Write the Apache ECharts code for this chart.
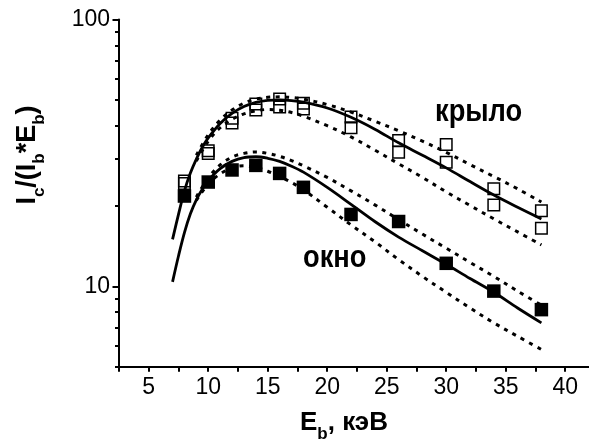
<!DOCTYPE html>
<html>
<head>
<meta charset="utf-8">
<script src="https://cdn.jsdelivr.net/npm/echarts@6/dist/echarts.min.js"></script>
<style>
  html, body { margin: 0; padding: 0; background: #fff; }
  #chart { width: 589px; height: 443px; }
</style>
</head>
<body>
<div id="chart"></div>
<script>
// Beam energy, keV, at which the yields were measured
const energies = [8, 10, 12, 14, 16, 18, 22, 26, 30, 34, 38];

// "крыло" (wing) — two measurement runs, open squares
const kryloRunA = [24.8, 32.2, 42.7, 48.2, 50.4, 48.6, 43.1, 35.2, 34.0, 23.2, 19.2];
const kryloRunB = [24.3, 31.5, 40.9, 45.8, 47.0, 46.2, 39.3, 31.8, 29.2, 20.2, 16.5];

// "окно" (window) — filled squares
const oknoData = [21.8, 24.6, 27.3, 28.4, 26.5, 23.5, 18.6, 17.5, 12.2, 9.6, 8.18];

// Model curves (solid) and their error bands (dotted)
const fitX = [7, 7.5, 8, 8.5, 9, 9.5, 10, 11, 12, 13, 14, 15, 16, 17, 18, 20, 22, 24, 26, 28, 30, 32, 34, 36, 38];
const kryloFit = [15.0, 18.6, 22.8, 26.6, 30.0, 33.2, 36.0, 40.8, 44.5, 47.2, 48.9, 49.8, 50.0, 49.7, 49.0, 46.6, 43.0, 38.8, 34.5, 31.0, 27.8, 24.7, 22.0, 19.8, 17.9];
const oknoFit = [10.4, 13.0, 15.9, 18.7, 21.1, 23.1, 24.9, 27.6, 29.4, 30.4, 30.6, 30.2, 29.4, 28.2, 26.8, 23.5, 20.3, 17.5, 15.3, 13.6, 12.1, 10.7, 9.5, 8.3, 7.3];

const bandX = [9, 10, 11, 12, 13, 14, 15, 16, 17, 18, 20, 22, 24, 26, 28, 30, 32, 34, 36, 38];
const kryloHi = [31.0, 37.0, 42.0, 45.8, 48.6, 50.3, 51.1, 51.3, 51.0, 50.3, 48.0, 45.0, 41.6, 38.3, 35.0, 31.8, 28.6, 25.8, 23.2, 20.7];
const kryloLo = [29.5, 35.0, 39.3, 42.3, 44.3, 45.5, 46.0, 45.7, 44.8, 43.4, 40.0, 36.3, 32.4, 28.8, 25.6, 22.6, 20.1, 17.9, 16.0, 14.3];
const oknoHi = [21.6, 25.5, 28.5, 30.5, 31.5, 31.9, 31.5, 30.7, 29.6, 28.3, 25.6, 22.8, 20.2, 17.8, 15.7, 13.9, 12.3, 10.9, 9.6, 8.5];
const oknoLo = [21.0, 24.2, 26.4, 27.8, 28.3, 27.9, 27.0, 25.8, 24.5, 23.0, 19.8, 17.0, 14.7, 12.6, 10.9, 9.5, 8.3, 7.3, 6.5, 5.8];

// Axis ticks and labels
const xTicks = [2.5, 5, 7.5, 10, 12.5, 15, 17.5, 20, 22.5, 25, 27.5, 30, 32.5, 35, 37.5, 40];
const xLabels = [5, 10, 15, 20, 25, 30, 35, 40];
const yMajor = [10, 100];
const yMinor = [5, 6, 7, 8, 9, 20, 30, 40, 50, 60, 70, 80, 90];

// Axis titles: [text, isSubscript]
const xTitle = [['E', false], ['b', true], [', кэВ', false]];
const yTitle = [['I', false], ['c', true], ['/(I', false], ['b', true], ['*E', false], ['b', true], [')', false]];

const FONT = "'Liberation Sans', Arial, sans-serif";
const zip = (xs, ys) => xs.map((x, i) => [x, ys[i]]);

const solid = { color: '#000', width: 2.8 };
const dotted = { color: '#000', width: 3, type: [4, 5.5] };

function curve(xs, ys, style) {
  return {
    type: 'line', data: zip(xs, ys), showSymbol: false, smooth: 0.35,
    lineStyle: style, z: 2, silent: true
  };
}

// Title with subscripts, laid out piece by piece and centred on its group origin
const measureCtx = document.createElement('canvas').getContext('2d');
function titleGroup(parts, size, subSize, drop, pos, rotation) {
  const mainFont = `bold ${size}px ${FONT}`;
  const subFont = `bold ${subSize}px ${FONT}`;
  const widths = parts.map(([t, sub]) => {
    measureCtx.font = sub ? subFont : mainFont;
    return measureCtx.measureText(t).width;
  });
  const total = widths.reduce((a, b) => a + b, 0);
  let x = -total / 2;
  const children = parts.map(([t, sub], i) => {
    const el = {
      type: 'text', x: x, y: sub ? drop : 0,
      style: { text: t, font: sub ? subFont : mainFont, fill: '#000', align: 'left', verticalAlign: 'middle' }
    };
    x += widths[i];
    return el;
  });
  return { type: 'group', x: pos[0], y: pos[1], rotation: rotation, children: children, z: 10 };
}

const chart = echarts.init(document.getElementById('chart'), null, { renderer: 'canvas' });

chart.setOption({
  animation: false,
  backgroundColor: '#fff',
  grid: { left: 119, right: 0, top: 19.5, bottom: 76.3, containLabel: false },
  xAxis: {
    type: 'value', min: 2.5, max: 42,
    axisLine: { show: true, lineStyle: { color: '#000', width: 2 } },
    axisTick: { show: true, customValues: xTicks, length: 5, lineStyle: { color: '#000', width: 2 } },
    axisLabel: { customValues: xLabels, fontSize: 23, color: '#000', fontFamily: FONT, margin: 9 },
    splitLine: { show: false }
  },
  yAxis: [
    {
      type: 'log', logBase: 10, min: 5, max: 100, position: 'left',
      axisLine: { show: true, lineStyle: { color: '#000', width: 2 } },
      axisTick: { show: true, customValues: yMinor, length: 4, lineStyle: { color: '#000', width: 2 } },
      axisLabel: { show: false },
      splitLine: { show: false }
    },
    {
      type: 'log', logBase: 10, min: 5, max: 100, position: 'left',
      axisLine: { show: false },
      axisTick: { show: true, customValues: yMajor, length: 6.5, lineStyle: { color: '#000', width: 2 } },
      axisLabel: { customValues: yMajor, fontSize: 23, color: '#000', fontFamily: FONT, margin: 9 },
      splitLine: { show: false }
    }
  ],
  series: [
    curve(fitX, kryloFit, solid),
    curve(bandX, kryloHi, dotted),
    curve(bandX, kryloLo, dotted),
    curve(fitX, oknoFit, solid),
    curve(bandX, oknoHi, dotted),
    curve(bandX, oknoLo, dotted),
    {
      type: 'scatter', data: zip(energies, kryloRunA), symbol: 'rect', symbolSize: 11.5, z: 3,
      itemStyle: { color: 'rgba(0,0,0,0)', borderColor: '#000', borderWidth: 1.5, opacity: 1 }
    },
    {
      type: 'scatter', data: zip(energies, kryloRunB), symbol: 'rect', symbolSize: 11.5, z: 3,
      itemStyle: { color: 'rgba(0,0,0,0)', borderColor: '#000', borderWidth: 1.5, opacity: 1 }
    },
    {
      type: 'scatter', data: zip(energies, oknoData), symbol: 'rect', symbolSize: 13.5, z: 3,
      itemStyle: { color: '#000', opacity: 1 }
    }
  ],
  graphic: [
    {
      type: 'text', left: 435, top: 97, z: 10,
      style: { text: 'крыло', font: "bold 31px 'Liberation Sans', Arial, sans-serif", fill: '#000' },
      scaleX: 0.88
    },
    {
      type: 'text', left: 303, top: 243, z: 10,
      style: { text: 'окно', font: "bold 31px 'Liberation Sans', Arial, sans-serif", fill: '#000' },
      scaleX: 0.88
    },
    titleGroup(xTitle, 26, 17, 11, [344, 423], 0),
    titleGroup(yTitle, 27, 17, 11, [28, 155], Math.PI / 2)
  ]
});
</script>
</body>
</html>
